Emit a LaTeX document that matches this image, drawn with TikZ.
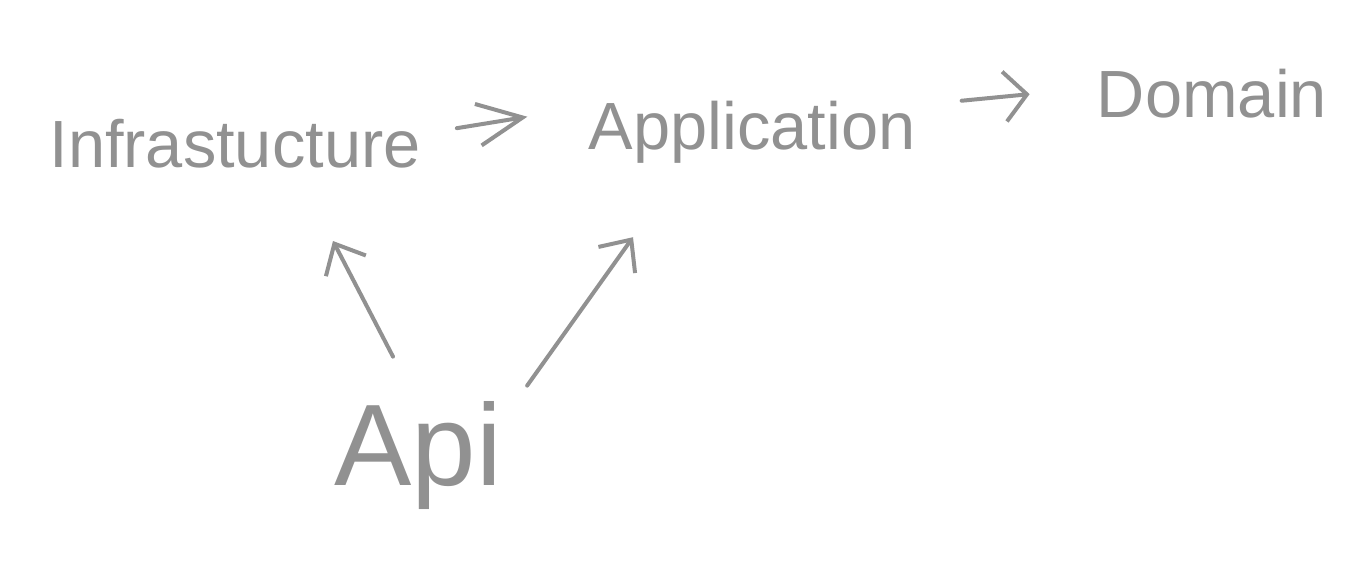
\documentclass[tikz,border=0pt]{standalone}
\usepackage{fontspec}
\setmainfont{Liberation Sans}
\usetikzlibrary{arrows.meta}
\definecolor{pen}{RGB}{145,145,145}
\tikzset{
	layer/.style={text=pen, inner sep=0pt, anchor=base, font=\fontsize{38}{40}\selectfont},
	link/.style={draw=pen, line width=0.08cm, line cap=round, line join=round},
}
\begin{document}
\begin{tikzpicture}[x=0.02cm, y=-0.02cm]
	\useasboundingbox (0, 0) rectangle (1368, 564);
	% Nodes:
	\node[layer] (infra) at (235, 168){Infrastucture};
	\node[layer] (app) at (752, 150){Application};
	\node[layer] (domain) at (1212, 118){Domain};
	\node[layer, font=\fontsize{66}{70}\selectfont] (api) at (418, 485){Api};
	% Arrows:
	\draw[link, -{Straight Barb[length=0.9cm, width=0.84cm, line width=0.08cm]}] ([shift={(36,-16)}]infra.east) -- ([shift={(-61,-16)}]app.west);
	\draw[link, -{Straight Barb[length=0.45cm, width=1cm, line width=0.08cm]}] ([shift={(46,-32)}]app.east) -- ([shift={(-67,0)}]domain.west);
	\draw[link, -{Straight Barb[length=0.5cm, width=0.9cm, line width=0.08cm]}] ([shift={(-25,-44)}]api.north) -- ([shift={(98,72)}]infra.south);
	\draw[link, -{Straight Barb[length=0.5cm, width=0.9cm, line width=0.08cm]}] ([shift={(25,-15)}]api.north east) -- ([shift={(-119,73)}]app.south);
\end{tikzpicture}
\end{document}
